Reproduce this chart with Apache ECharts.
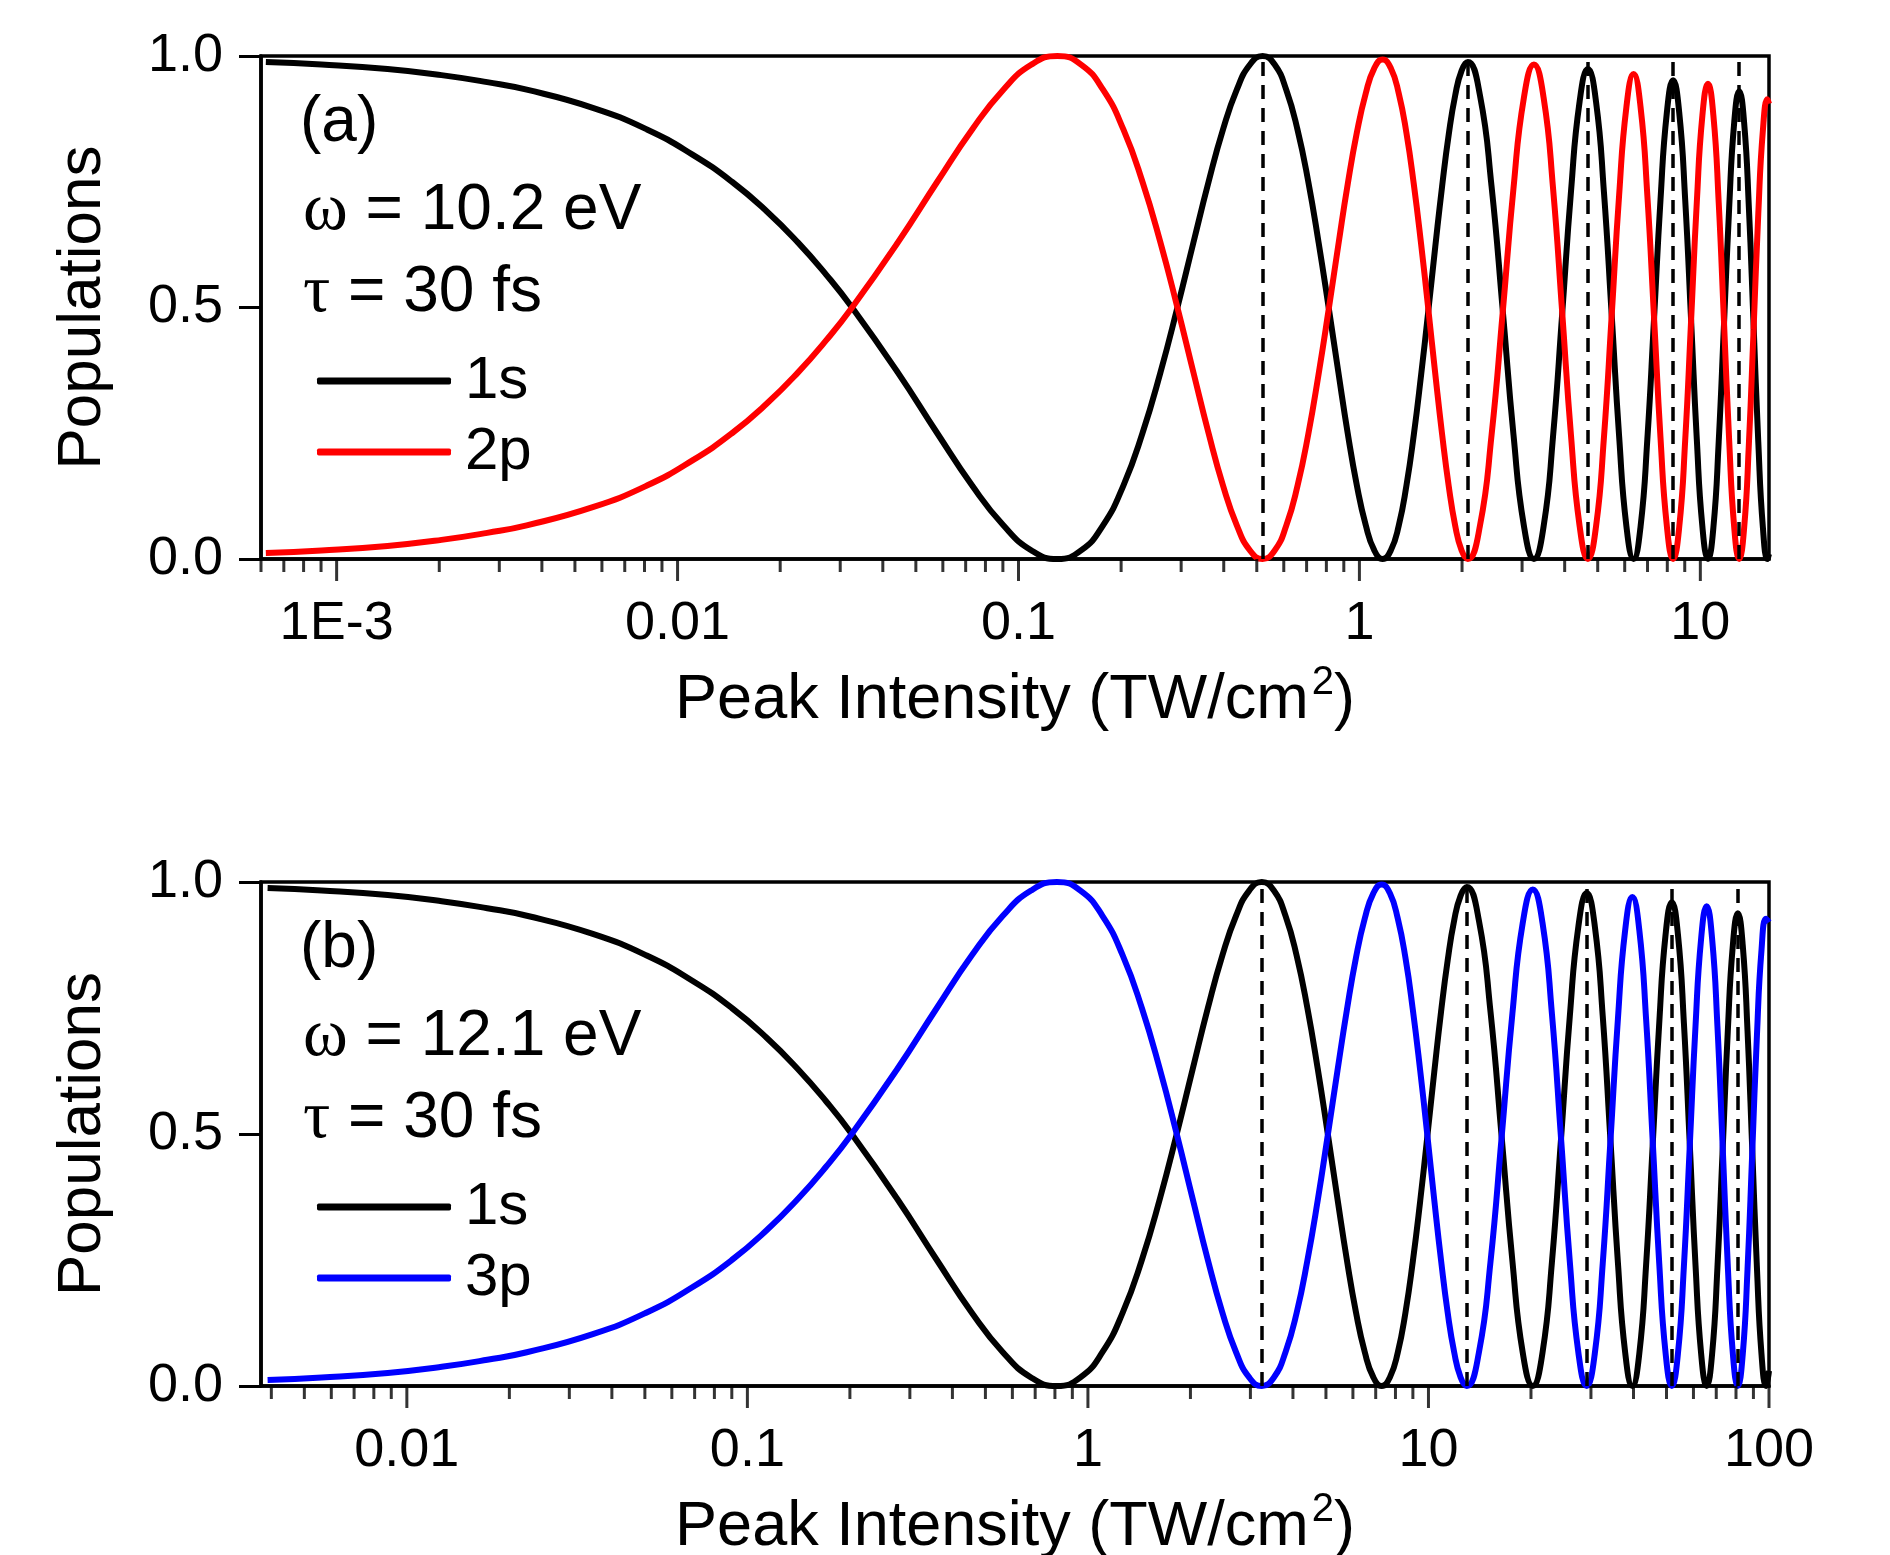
<!DOCTYPE html>
<html>
<head>
<meta charset="utf-8">
<script src="https://cdn.jsdelivr.net/npm/echarts@6/dist/echarts.min.js"></script>
<style>
    html, body { margin: 0; padding: 0; background: #fff; }
    #chart { width: 1890px; height: 1555px; }
</style>
</head>
<body>
<div id="chart"></div>
<script>
    // panel (a): omega = 10.2 eV, 1s / 2p
    const xA = [0.00062, 0.000903, 0.00141, 0.00203, 0.002765, 0.00361, 0.00564, 0.00813,
        0.01106, 0.01444, 0.01828, 0.02257, 0.02731, 0.0325, 0.04424, 0.05778, 0.07313,
        0.09028, 0.1092, 0.13, 0.1526, 0.177, 0.2031, 0.231, 0.2609, 0.2925, 0.3259,
        0.3611, 0.3981, 0.4369, 0.4776, 0.52,
        0.5642, 0.61, 0.6581, 0.708, 0.7592, 0.8125, 0.8676, 0.924, 0.9831, 1.044, 1.1059, 1.17,
        1.2359, 1.304, 1.3731, 1.444, 1.5176, 1.593, 1.6693, 1.748, 1.8281, 1.91, 1.9942, 2.08,
        2.257, 2.441, 2.633, 2.831, 3.037, 3.25, 3.47, 3.698, 3.933, 4.174, 4.424, 4.68,
        4.944, 5.214, 5.493, 5.778, 6.07, 6.37, 6.677, 6.991, 7.313, 7.641, 7.977, 8.32,
        8.67, 9.028, 9.393, 9.764, 10.14, 10.53, 10.92, 11.32, 11.73, 12.15, 12.57, 13.0,
        13.44, 13.88, 14.33, 14.79, 15.26, 15.73, 15.9]
    const pop1sA = [0.988, 0.983, 0.974, 0.962, 0.948, 0.933, 0.897, 0.854,
        0.804, 0.75, 0.691, 0.629, 0.565, 0.5, 0.371, 0.25, 0.146,
        0.067, 0.017, 0, 0.017, 0.067, 0.146, 0.25, 0.371, 0.5, 0.629,
        0.75, 0.854, 0.933, 0.983, 1.0,
        0.983, 0.933, 0.854, 0.75, 0.629, 0.5, 0.371, 0.25, 0.146, 0.067, 0.017, 0,
        0.017, 0.066, 0.145, 0.247, 0.367, 0.494, 0.621, 0.741, 0.844, 0.922, 0.971, 0.988,
        0.922, 0.741, 0.494, 0.247, 0.066, 0,
        0.065, 0.244, 0.487, 0.73, 0.909, 0.974, 0.909, 0.73, 0.487, 0.244, 0.065, 0,
        0.064, 0.238, 0.476, 0.714, 0.888, 0.952, 0.888, 0.714, 0.476, 0.238, 0.064, 0,
        0.062, 0.233, 0.465, 0.698, 0.868, 0.93, 0.868, 0.698, 0.465, 0.233, 0.062, 0,
        0.01]
    const pop2pA = [0.012, 0.017, 0.026, 0.038, 0.052, 0.067, 0.103, 0.146,
        0.196, 0.25, 0.309, 0.371, 0.435, 0.5, 0.629, 0.75, 0.854,
        0.933, 0.983, 1.0, 0.983, 0.933, 0.854, 0.75, 0.629, 0.5, 0.371,
        0.25, 0.146, 0.067, 0.017, 0,
        0.017, 0.066, 0.145, 0.248, 0.368, 0.496, 0.625, 0.745, 0.848, 0.926, 0.976, 0.993,
        0.976, 0.926, 0.848, 0.745, 0.625, 0.496, 0.368, 0.248, 0.145, 0.066, 0.017, 0,
        0.066, 0.246, 0.491, 0.737, 0.917, 0.983, 0.917, 0.737, 0.491, 0.246, 0.066, 0,
        0.065, 0.241, 0.482, 0.723, 0.899, 0.964, 0.899, 0.723, 0.482, 0.241, 0.065, 0,
        0.063, 0.236, 0.473, 0.709, 0.882, 0.945, 0.882, 0.709, 0.473, 0.236, 0.063, 0,
        0.061, 0.229, 0.457, 0.686, 0.853, 0.914,
        0.905]
    const dashedA = [0.52, 2.08, 4.68, 8.32, 13.0]

    // panel (b): omega = 12.1 eV, 1s / 3p
    const xB = [0.0039, 0.005625, 0.008789, 0.01266, 0.01723, 0.0225, 0.03516, 0.05063,
        0.06891, 0.09, 0.1139, 0.1406, 0.1702, 0.2025, 0.2756, 0.36, 0.4556,
        0.5625, 0.6806, 0.81, 0.9506, 1.103, 1.266, 1.44, 1.626, 1.823, 2.031,
        2.25, 2.481, 2.723, 2.976, 3.24,
        3.516, 3.803, 4.101, 4.41, 4.731, 5.063, 5.406, 5.76, 6.126, 6.503, 6.891, 7.29,
        7.701, 8.123, 8.556, 9.0, 9.456, 9.923, 10.4, 10.89, 11.39, 11.9, 12.43, 12.96,
        14.06, 15.21, 16.4, 17.64, 18.92, 20.25, 21.62, 23.04, 24.5, 26.01, 27.56, 29.16,
        30.8, 32.49, 34.22, 36.0, 37.82, 39.69, 41.6, 43.56, 45.56, 47.61, 49.7, 51.84,
        54.02, 56.25, 58.52, 60.84, 63.2, 65.61, 68.06, 70.56, 73.1, 75.69, 78.32, 81.0,
        83.72, 86.49, 89.3, 92.16, 95.06, 98.01, 100]
    const pop1sB = [0.988, 0.983, 0.974, 0.962, 0.948, 0.933, 0.897, 0.854,
        0.804, 0.75, 0.691, 0.629, 0.565, 0.5, 0.371, 0.25, 0.146,
        0.067, 0.017, 0, 0.017, 0.067, 0.146, 0.25, 0.371, 0.5, 0.629,
        0.75, 0.854, 0.933, 0.983, 1.0,
        0.983, 0.933, 0.854, 0.75, 0.629, 0.5, 0.371, 0.25, 0.146, 0.067, 0.017, 0,
        0.017, 0.066, 0.145, 0.248, 0.367, 0.495, 0.623, 0.743, 0.845, 0.924, 0.973, 0.99,
        0.924, 0.743, 0.495, 0.248, 0.066, 0,
        0.066, 0.245, 0.489, 0.734, 0.912, 0.978, 0.912, 0.734, 0.489, 0.245, 0.066, 0,
        0.064, 0.24, 0.48, 0.72, 0.896, 0.96, 0.896, 0.72, 0.48, 0.24, 0.064, 0,
        0.063, 0.235, 0.469, 0.704, 0.875, 0.938, 0.875, 0.704, 0.469, 0.235, 0.063, 0,
        0.03]
    const pop3pB = [0.012, 0.017, 0.026, 0.038, 0.052, 0.067, 0.103, 0.146,
        0.196, 0.25, 0.309, 0.371, 0.435, 0.5, 0.629, 0.75, 0.854,
        0.933, 0.983, 1.0, 0.983, 0.933, 0.854, 0.75, 0.629, 0.5, 0.371,
        0.25, 0.146, 0.067, 0.017, 0,
        0.017, 0.067, 0.145, 0.249, 0.369, 0.498, 0.626, 0.746, 0.85, 0.928, 0.978, 0.995,
        0.978, 0.928, 0.85, 0.746, 0.626, 0.498, 0.369, 0.249, 0.145, 0.067, 0.017, 0,
        0.066, 0.246, 0.493, 0.739, 0.919, 0.985, 0.919, 0.739, 0.493, 0.246, 0.066, 0,
        0.065, 0.243, 0.485, 0.728, 0.905, 0.97, 0.905, 0.728, 0.485, 0.243, 0.065, 0,
        0.064, 0.238, 0.476, 0.714, 0.888, 0.952, 0.888, 0.714, 0.476, 0.238, 0.064, 0,
        0.062, 0.232, 0.464, 0.695, 0.865, 0.927,
        0.92]
    const dashedB = [3.24, 12.96, 29.16, 51.84, 81.0]

    // tick values and labels of the log axes
    const xLabelsA = [[0.001, '1E-3'], [0.01, '0.01'], [0.1, '0.1'], [1, '1'], [10, '10']]
    const xLabelsB = [[0.01, '0.01'], [0.1, '0.1'], [1, '1'], [10, '10'], [100, '100']]
    const majorTicksA = [0.001, 0.01, 0.1, 1, 10]
    const minorTicksA = [0.0006, 0.0007, 0.0008, 0.0009,
        0.002, 0.003, 0.004, 0.005, 0.006, 0.007, 0.008, 0.009,
        0.02, 0.03, 0.04, 0.05, 0.06, 0.07, 0.08, 0.09,
        0.2, 0.3, 0.4, 0.5, 0.6, 0.7, 0.8, 0.9,
        2, 3, 4, 5, 6, 7, 8, 9]
    const majorTicksB = [0.01, 0.1, 1, 10, 100]
    const minorTicksB = [0.004, 0.005, 0.006, 0.007, 0.008, 0.009,
        0.02, 0.03, 0.04, 0.05, 0.06, 0.07, 0.08, 0.09,
        0.2, 0.3, 0.4, 0.5, 0.6, 0.7, 0.8, 0.9,
        2, 3, 4, 5, 6, 7, 8, 9,
        20, 30, 40, 50, 60, 70, 80, 90]

    const FONT = 'Liberation Sans'
    const SERIF = 'Liberation Serif'

    function zip(xs, ys) {
        return xs.map((x, i) => [x, ys[i]])
    }

    function labelFor(v, labels) {
        for (const p of labels) {
            if (Math.abs(Math.log10(v) - Math.log10(p[0])) < 1e-6) return p[1]
        }
        return ''
    }

    function makeXAxis(idx, min, max, labels) {
        return {
            type: 'log',
            logBase: 10,
            gridIndex: idx,
            min: min,
            max: max,
            name: 'Peak Intensity (TW/cm{sup|2})',
            nameLocation: 'middle',
            nameGap: 104,
            nameTextStyle: {
                fontSize: 63, color: '#000', fontFamily: FONT,
                rich: { sup: { fontSize: 40, color: '#000', fontFamily: FONT, padding: [0, 0, 36, 3] } }
            },
            axisLine: { show: true, onZero: false, lineStyle: { color: '#000', width: 3.5 } },
            axisTick: { show: false },
            minorTick: { show: false },
            splitLine: { show: false },
            axisLabel: {
                fontSize: 54, color: '#000', fontFamily: FONT, margin: 38,
                formatter: v => labelFor(v, labels)
            }
        }
    }

    function makeYAxis(idx) {
        return {
            type: 'value',
            gridIndex: idx,
            min: 0,
            max: 1,
            interval: 0.5,
            name: 'Populations',
            nameLocation: 'middle',
            nameGap: 147,
            nameTextStyle: { fontSize: 62, color: '#000', fontFamily: FONT },
            axisLine: { show: true, lineStyle: { color: '#000', width: 3.5 } },
            axisTick: { show: true, length: 22, lineStyle: { color: '#000', width: 3 } },
            splitLine: { show: false },
            axisLabel: {
                fontSize: 54, color: '#000', fontFamily: FONT, margin: 38,
                formatter: v => v.toFixed(1)
            }
        }
    }

    // bottom ticks of the log axes (major + 2..9 minors), drawn outward
    function tickSeries(idx, values, len) {
        return {
            type: 'scatter',
            xAxisIndex: idx,
            yAxisIndex: idx,
            data: values.map(v => [v, 0]),
            symbol: 'rect',
            symbolSize: [3, len],
            symbolOffset: [0, len / 2],
            itemStyle: { color: '#000' },
            silent: true,
            clip: false,
            animation: false,
            z: 6
        }
    }

    function curve(idx, name, color, data, dashed) {
        const s = {
            type: 'line',
            name: name,
            xAxisIndex: idx,
            yAxisIndex: idx,
            data: data,
            showSymbol: false,
            smooth: 0.5,
            color: color,
            lineStyle: { color: color, width: 6 },
            itemStyle: { color: color },
            animation: false
        }
        if (dashed) {
            s.markLine = {
                silent: true,
                symbol: ['none', 'none'],
                label: { show: false },
                lineStyle: { color: '#000', width: 3.5, type: [14, 9] },
                data: dashed.map(v => ({ xAxis: v })),
                animation: false,
                z: 10
            }
        }
        return s
    }

    function panelText(top, letter, omega) {
        const base = { fontSize: 64, fontFamily: FONT, fill: '#000', verticalAlign: 'middle', align: 'left' }
        const rich = { g: { fontSize: 68, fontFamily: SERIF, fill: '#000' } }
        return [
            { type: 'text', x: 300, y: top + 67, style: Object.assign({ text: '(' + letter + ')' }, base) },
            { type: 'text', x: 303, y: top + 155, style: Object.assign({ text: '{g|ω} = ' + omega + ' eV', rich: rich }, base) },
            { type: 'text', x: 303, y: top + 237, style: Object.assign({ text: '{g|τ} = 30 fs', rich: rich }, base) }
        ]
    }

    function makeLegend(top, names) {
        return {
            orient: 'vertical',
            left: 312,
            top: top,
            itemWidth: 134,
            itemHeight: 7,
            itemGap: 11,
            icon: 'roundRect',
            selectedMode: false,
            data: names,
            textStyle: { fontSize: 60, color: '#000', fontFamily: FONT, padding: [0, 0, 0, 9] }
        }
    }

    const chart = echarts.init(document.getElementById('chart'))
    chart.setOption({
        animation: false,
        backgroundColor: '#fff',
        textStyle: { fontFamily: FONT },
        grid: [
            { left: 261, top: 56, width: 1508, height: 503, show: true, borderColor: '#000', borderWidth: 3.5, containLabel: false, outerBoundsMode: 'none' },
            { left: 261, top: 882, width: 1508, height: 504, show: true, borderColor: '#000', borderWidth: 3.5, containLabel: false, outerBoundsMode: 'none' }
        ],
        xAxis: [
            makeXAxis(0, 0.0006, 15.9, xLabelsA),
            makeXAxis(1, 0.00373, 100, xLabelsB)
        ],
        yAxis: [makeYAxis(0), makeYAxis(1)],
        legend: [
            makeLegend(346, ['1s', '2p']),
            makeLegend(1172, ['1s', '3p'])
        ],
        graphic: panelText(56, 'a', '10.2').concat(panelText(882, 'b', '12.1')),
        series: [
            curve(0, '1s', '#000', zip(xA, pop1sA), dashedA),
            curve(0, '2p', '#ff0000', zip(xA, pop2pA)),
            curve(1, '1s', '#000', zip(xB, pop1sB), dashedB),
            curve(1, '3p', '#0000ff', zip(xB, pop3pB)),
            tickSeries(0, majorTicksA, 22),
            tickSeries(0, minorTicksA, 13),
            tickSeries(1, majorTicksB, 22),
            tickSeries(1, minorTicksB, 13)
        ]
    })
</script>
</body>
</html>
